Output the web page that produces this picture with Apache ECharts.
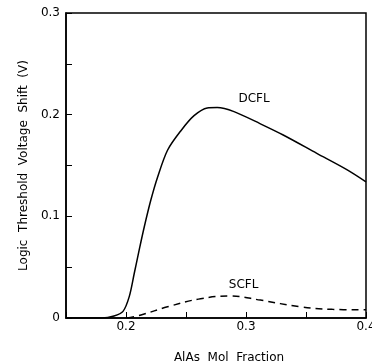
<!DOCTYPE html>
<html><head><meta charset="utf-8">
<script src="https://cdn.jsdelivr.net/npm/echarts@6/dist/echarts.min.js"></script>
<style>html,body{margin:0;padding:0;background:#fff}#c{width:372px;height:364px}</style>
</head><body><div id="c"></div>
<script>
const dcflX = [0.15, 0.18, 0.19, 0.1975, 0.2027, 0.2069, 0.211, 0.2152, 0.2207, 0.2263, 0.2346, 0.2456, 0.2567, 0.2677, 0.276, 0.29, 0.312, 0.331, 0.359, 0.384, 0.4];
const dcflY = [0, 0, 0.002, 0.0065, 0.021, 0.044, 0.067, 0.0895, 0.116, 0.1385, 0.165, 0.184, 0.199, 0.2066, 0.207, 0.203, 0.191, 0.18, 0.162, 0.146, 0.134];
const scflX = [0.201, 0.2125, 0.2346, 0.2622, 0.287, 0.312, 0.345, 0.372, 0.4];
const scflY = [0, 0.003, 0.011, 0.019, 0.0216, 0.0176, 0.011, 0.0085, 0.008];
const labels = [{name: 'DCFL', x: 0.3067, y: 0.216}, {name: 'SCFL', x: 0.298, y: 0.033}];
const xTicks = [0.2, 0.3, 0.4];
const yTicks = [0, 0.1, 0.2, 0.3];

const zip = (a, b) => a.map((v, i) => [v, b[i]]);
const near = (v, arr) => arr.some(t => Math.abs(t - v) < 1e-6);
const font = 'DejaVu Sans';
const mp = (l) => ({
  symbol: 'circle', symbolSize: 1, itemStyle: {color: 'rgba(0,0,0,0)'},
  label: {show: true, position: 'inside', color: '#000', fontFamily: font, fontSize: 12, formatter: p => p.name},
  data: [{name: l.name, coord: [l.x, l.y]}]
});
const chart = echarts.init(document.getElementById('c'));
chart.setOption({
  animation: false,
  backgroundColor: '#fff',
  grid: {left: 66, right: 6, top: 13, bottom: 46, outerBoundsMode: 'none', containLabel: false,
    show: true, borderColor: '#000', borderWidth: 1.5, backgroundColor: 'transparent'},
  xAxis: {
    type: 'value', min: 0.15, max: 0.4, interval: 0.05,
    name: 'AlAs  Mol  Fraction', nameLocation: 'middle', nameGap: 34,
    nameTextStyle: {fontFamily: font, fontSize: 12, color: '#000', padding: [0, 0, 0, 26]},
    axisLine: {show: true, lineStyle: {color: '#000', width: 1.5}},
    axisTick: {show: true, inside: true, length: 6, lineStyle: {color: '#000', width: 1}},
    splitLine: {show: false},
    axisLabel: {fontFamily: font, fontSize: 12, color: '#000', margin: 3, showMinLabel: true, showMaxLabel: true,
      formatter: v => near(v, xTicks) ? String(+v.toFixed(2)) : ''}
  },
  yAxis: {
    type: 'value', min: 0, max: 0.3, interval: 0.05,
    name: 'Logic  Threshold  Voltage  Shift  (V)', nameLocation: 'middle', nameGap: 34,
    nameTextStyle: {fontFamily: font, fontSize: 12, color: '#000'},
    axisLine: {show: true, lineStyle: {color: '#000', width: 1.5}},
    axisTick: {show: true, inside: true, length: 6, lineStyle: {color: '#000', width: 1}},
    splitLine: {show: false},
    axisLabel: {fontFamily: font, fontSize: 12, color: '#000', margin: 6,
      formatter: v => near(v, yTicks) ? String(+v.toFixed(2)) : ''}
  },
  series: [
    {type: 'line', data: zip(dcflX, dcflY), smooth: 0.3, symbol: 'none', lineStyle: {color: '#000', width: 1.5},
      markPoint: mp(labels[0])},
    {type: 'line', data: zip(scflX, scflY), smooth: 0.4, symbol: 'none', lineStyle: {color: '#000', width: 1.5, type: [7, 5]},
      markPoint: mp(labels[1])}
  ]
});
</script></body></html>
